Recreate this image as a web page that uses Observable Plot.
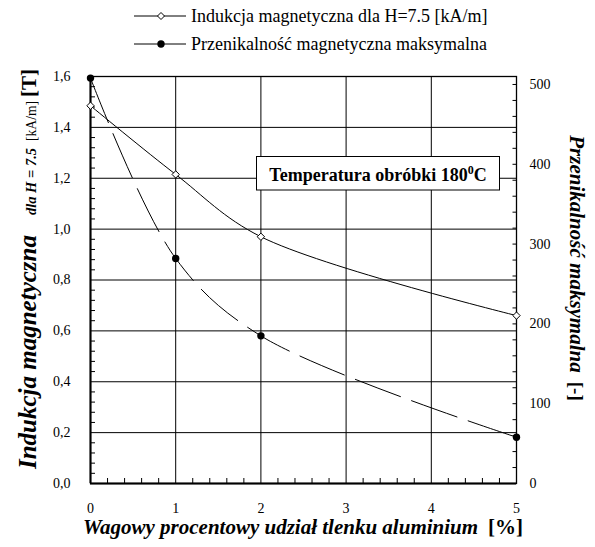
<!DOCTYPE html>
<html>
<head>
<meta charset="utf-8">
<script src="https://cdn.jsdelivr.net/npm/d3@7"></script>
<script src="https://cdn.jsdelivr.net/npm/@observablehq/plot@0.6"></script>
<style>
  body { margin: 0; background: #fff; font-family: "Liberation Serif", "Times New Roman", serif; color: #000; }
  #legend { position: relative; width: 595px; height: 58px; }
  .row { position: absolute; left: 134px; height: 20px; display: flex; align-items: center; font-size: 18px; white-space: nowrap; }
  .row svg { margin-right: 5px; }
  #chart svg text, #chart svg tspan { font-family: "Liberation Serif", "Times New Roman", serif; }
</style>
</head>
<body>
<div id="legend"></div>
<div id="chart"></div>
<script>
// Alumina content (wt %) and the two measured series
const pct = [0, 1, 2, 5];
const induction = [1.485, 1.215, 0.97, 0.66];      // B at H = 7.5 kA/m [T]
const permeability = [508, 282, 185, 58];          // maximum permeability [-]
const seriesNames = ["Indukcja magnetyczna dla H=7.5 [kA/m]", "Przenikalność magnetyczna maksymalna"];

// Axis ticks
const xTicks = [0, 1, 2, 3, 4, 5];
const yTicks = [0, 0.2, 0.4, 0.6, 0.8, 1.0, 1.2, 1.4, 1.6];
const rightTicks = [0, 100, 200, 300, 400, 500];
const rightMax = 510;

const k = 1.6 / rightMax; // right axis units -> left axis units
const rows = pct.map((x, i) => ({x, b: induction[i], mu: permeability[i]}));
const xMinor = d3.range(1, 25).filter(i => i % 5).map(i => +(i * 0.2).toFixed(2));
const yMinor = d3.range(1, 40).filter(i => i % 5).map(i => +(i * 0.04).toFixed(2));
const rightMinor = d3.range(1, 26).map(i => i * 20);

// Legend
const legend = d3.select("#legend");
[[seriesNames[0], "diamond"], [seriesNames[1], "dot"]].forEach(([name, kind], i) => {
  const row = legend.append("div").attr("class", "row").style("top", (6 + i * 28) + "px");
  const s = row.append("svg").attr("width", 52).attr("height", 14);
  s.append("line").attr("x1", 0).attr("x2", 52).attr("y1", 7).attr("y2", 7).attr("stroke", "#000");
  if (kind === "diamond") {
    s.append("path").attr("d", "M27,3.5L30.5,7L27,10.5L23.5,7Z").attr("fill", "#fff").attr("stroke", "#000");
  } else {
    s.append("circle").attr("cx", 27).attr("cy", 7).attr("r", 3.7).attr("fill", "#000");
  }
  row.append("span").text(name);
});

const fmt = d => d.toFixed(1).replace(".", ",");

const plot = Plot.plot({
  width: 595,
  height: 489,
  marginTop: 18,
  marginBottom: 64,
  marginLeft: 90,
  marginRight: 79,
  style: {fontSize: "14px", color: "#000", background: "#fff", overflow: "visible"},
  x: {domain: [0, 5]},
  y: {domain: [0, 1.6]},
  marks: [
    Plot.ruleY(yTicks.filter(d => d > 0), {stroke: "#000", strokeWidth: 1}),
    Plot.ruleX(xTicks.filter(d => d > 0 && d < 5), {stroke: "#000", strokeWidth: 1}),
    Plot.frame({stroke: "#000", strokeWidth: 1.3}),
    Plot.ruleX([0], {stroke: "#000", strokeWidth: 2}),
    Plot.ruleY([0], {stroke: "#000", strokeWidth: 2}),
    Plot.axisY(yTicks, {anchor: "left", tickSize: 0, tickPadding: 20, tickFormat: fmt, label: null, fontSize: 14}),
    Plot.axisY(yMinor, {anchor: "left", tickSize: -5, fill: "none", label: null}),
    Plot.axisX(xTicks, {anchor: "bottom", tickSize: 0, tickPadding: 20, tickFormat: d => String(d), label: null, fontSize: 14}),
    Plot.axisX(xMinor, {anchor: "bottom", tickSize: -5, fill: "none", label: null}),
    Plot.axisY(rightTicks, {anchor: "right", y: d => d * k, tickSize: 0, tickPadding: 13, tickFormat: d => String(d), label: null, fontSize: 14}),
    Plot.axisY(rightMinor, {anchor: "right", y: d => d * k, tickSize: -4.5, fill: "none", label: null}),
    Plot.line(rows, {x: "x", y: "b", curve: "catmull-rom", stroke: "#000", strokeWidth: 1}),
    Plot.line(rows, {x: "x", y: d => d.mu * k, curve: "catmull-rom", stroke: "#000", strokeWidth: 1, strokeDasharray: "48,12"}),
    Plot.dot(rows, {x: "x", y: "b", symbol: "diamond2", r: 3.3, stroke: "#000", fill: "#fff", strokeWidth: 1}),
    Plot.dot(rows, {x: "x", y: d => d.mu * k, r: 3.7, fill: "#000", stroke: "none"})
  ]
});
document.getElementById("chart").appendChild(plot);

const svg = d3.select(plot);

// Left axis title
const lt = svg.append("text")
  .attr("transform", "translate(36,211) rotate(-90)")
  .attr("text-anchor", "middle").attr("fill", "#000");
lt.append("tspan").attr("font-size", 25).attr("font-weight", "bold").attr("font-style", "italic").text("Indukcja magnetyczna");
lt.append("tspan").attr("dx", 20).attr("font-size", 14.5).attr("font-weight", "bold").attr("font-style", "italic").text("dla H = 7.5");
lt.append("tspan").attr("dx", 7).attr("font-size", 13.6).text("[kA/m]");
lt.append("tspan").attr("dx", 4).attr("font-size", 21).attr("font-weight", "bold").text("[T]");

// Right axis title
const rt = svg.append("text")
  .attr("transform", "translate(570,210) rotate(90)")
  .attr("text-anchor", "middle").attr("fill", "#000");
rt.append("tspan").attr("font-size", 21).attr("font-weight", "bold").attr("font-style", "italic").text("Przenikalność maksymalna");
rt.append("tspan").attr("dx", 9).attr("font-size", 19).attr("font-weight", "bold").text("[-]");

// Bottom axis title
const xt = svg.append("text")
  .attr("x", 303).attr("y", 476)
  .attr("text-anchor", "middle").attr("fill", "#000");
xt.append("tspan").attr("font-size", 21).attr("font-weight", "bold").attr("font-style", "italic").text("Wagowy procentowy udział tlenku aluminium");
xt.append("tspan").attr("dx", 10).attr("font-size", 21).attr("font-weight", "bold").text("[%]");

// Heat-treatment note
const note = svg.append("g");
note.append("rect").attr("x", 256.5).attr("y", 98.5).attr("width", 243).attr("height", 33.5)
  .attr("fill", "#fff").attr("stroke", "#000").attr("stroke-width", 1);
const nt = note.append("text").attr("x", 378).attr("y", 122.5).attr("text-anchor", "middle")
  .attr("font-weight", "bold").attr("font-size", 18).attr("fill", "#000");
nt.append("tspan").text("Temperatura obróbki 180");
nt.append("tspan").attr("dy", -7).attr("font-size", 12).text("0");
nt.append("tspan").attr("dy", 7).text("C");
</script>
</body>
</html>
